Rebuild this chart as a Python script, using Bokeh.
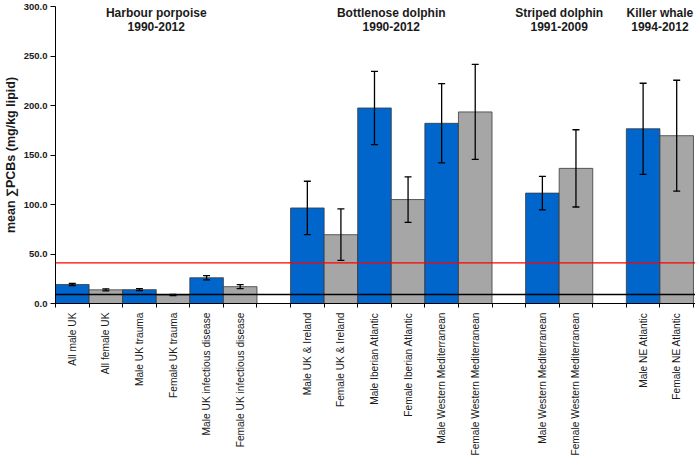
import math
from bokeh.plotting import figure
from bokeh.models import (ColumnDataSource, Whisker, Span, FixedTicker, Range1d,
                          TeeHead, NumeralTickFormatter)
from bokeh.core.properties import value
from bokeh.embed import file_html
from bokeh.resources import INLINE

# ---- data ----
labels = ["All male UK", "All female UK", "Male UK trauma", "Female UK trauma",
          "Male UK infectious disease", "Female UK infectious disease", "",
          "Male UK & Ireland", "Female UK & Ireland", "Male Iberian Atlantic",
          "Female Iberian Atlantic", "Male Western Mediterranean",
          "Female Western Mediterranean", "",
          "Male Western Mediterranean", "Female Western Mediterranean", "",
          "Male NE Atlantic", "Female NE Atlantic"]
means = [19.2, 13.8, 14.0, 8.6, 26.0, 17.0, None,
         96.5, 69.5, 197.5, 105.0, 182.0, 193.5, None,
         111.5, 136.5, None,
         176.5, 169.5]
errors = [1.0, 1.0, 1.0, 0.5, 2.2, 2.0, None,
          27.0, 26.0, 37.0, 23.0, 40.0, 48.0, None,
          17.0, 39.0, None,
          46.0, 56.0]
sex = ["M", "F", "M", "F", "M", "F", None,
       "M", "F", "M", "F", "M", "F", None,
       "M", "F", None,
       "M", "F"]
group_titles = ["Harbour porpoise\n1990-2012", "Bottlenose dolphin\n1990-2012",
                "Striped dolphin\n1991-2009", "Killer whale\n1994-2012"]
group_slots = [(0, 5), (7, 12), (14, 15), (17, 18)]
threshold_low = 9.0
threshold_high = 41.0
y_ticks = [0, 50, 100, 150, 200, 250, 300]

BLUE = "#0066CC"
GREY = "#A6A6A6"

# ---- sources ----
xs, tops, lowers, uppers, cols = [], [], [], [], []
for i, (m, e, s) in enumerate(zip(means, errors, sex)):
    if m is None:
        continue
    xs.append(i + 0.5)
    tops.append(m)
    lowers.append(m - e)
    uppers.append(m + e)
    cols.append(BLUE if s == "M" else GREY)
src = ColumnDataSource(dict(x=xs, top=tops, lower=lowers, upper=uppers, color=cols))

n = len(labels)
p = figure(frame_width=640, frame_height=297, output_backend="svg", toolbar_location=None,
           x_range=Range1d(0, n + 0.06), y_range=Range1d(0, 300),
           min_border_left=47, min_border_top=6, min_border_right=0,
           min_border_bottom=0)
p.background_fill_color = "white"
p.border_fill_color = "white"
p.outline_line_color = None
p.xgrid.visible = False
p.ygrid.visible = False

p.vbar(x="x", top="top", width=1.0, bottom=0, source=src,
       fill_color="color", line_color="#3a3a3a", line_width=0.8)

w = Whisker(source=src, base="x", lower="lower", upper="upper",
            line_color="black", line_width=1.3, level="overlay",
            upper_head=TeeHead(size=7, line_color="black", line_width=1.3),
            lower_head=TeeHead(size=7, line_color="black", line_width=1.3))
p.add_layout(w)

p.add_layout(Span(location=threshold_high, dimension="width",
                  line_color="#FF0000", line_width=1.3))
p.add_layout(Span(location=threshold_low, dimension="width",
                  line_color="black", line_width=1.5))

# group titles
tx, ty, tt = [], [], []
for (a, b), t in zip(group_slots, group_titles):
    tx.append((a + b + 1) / 2.0)
    ty.append(301)
    tt.append(t)
p.text(x=tx, y=ty, text=tt, text_font=value("Liberation Sans"),
       text_font_style="bold", text_font_size="12px", text_color="#1a1a1a",
       text_align="center", text_baseline="top", text_line_height=1.0)

# x axis
centers = [i + 0.5 for i, l in enumerate(labels) if l]
bounds = [float(i) for i in range(n + 1)]
p.xaxis.ticker = FixedTicker(ticks=centers, minor_ticks=bounds)
p.xaxis.major_label_overrides = {i + 0.5: l for i, l in enumerate(labels) if l}
p.xaxis.major_label_orientation = math.pi / 2
p.xaxis.major_tick_out = 0
p.xaxis.major_tick_in = 0
p.xaxis.minor_tick_out = 4
p.xaxis.minor_tick_in = 0
p.xaxis.major_label_standoff = 5
p.xaxis.major_label_text_font = "Liberation Sans"
p.xaxis.major_label_text_font_size = "10.2px"
p.xaxis.major_label_text_color = "#1a1a1a"
p.xaxis.axis_line_color = "black"
p.xaxis.axis_line_width = 1

# y axis
p.yaxis.ticker = FixedTicker(ticks=y_ticks, minor_ticks=[])
p.yaxis.formatter = NumeralTickFormatter(format="0.0")
p.yaxis.major_tick_out = 5
p.yaxis.major_tick_in = 0
p.yaxis.minor_tick_out = 0
p.yaxis.minor_tick_in = 0
p.yaxis.major_label_standoff = 3
p.yaxis.major_label_text_font = "Liberation Sans"
p.yaxis.major_label_text_font_style = "bold"
p.yaxis.major_label_text_font_size = "9.5px"
p.yaxis.major_label_text_color = "#1a1a1a"
p.yaxis.axis_label = "mean \u2211PCBs (mg/kg lipid)"
p.yaxis.axis_label_text_font = "Liberation Sans"
p.yaxis.axis_label_text_font_style = "bold"
p.yaxis.axis_label_text_font_size = "12.5px"
p.yaxis.axis_label_text_color = "#1a1a1a"
p.yaxis.axis_label_standoff = 3
p.yaxis.axis_line_color = "black"

open("out.html", "w").write(file_html(p, INLINE))
